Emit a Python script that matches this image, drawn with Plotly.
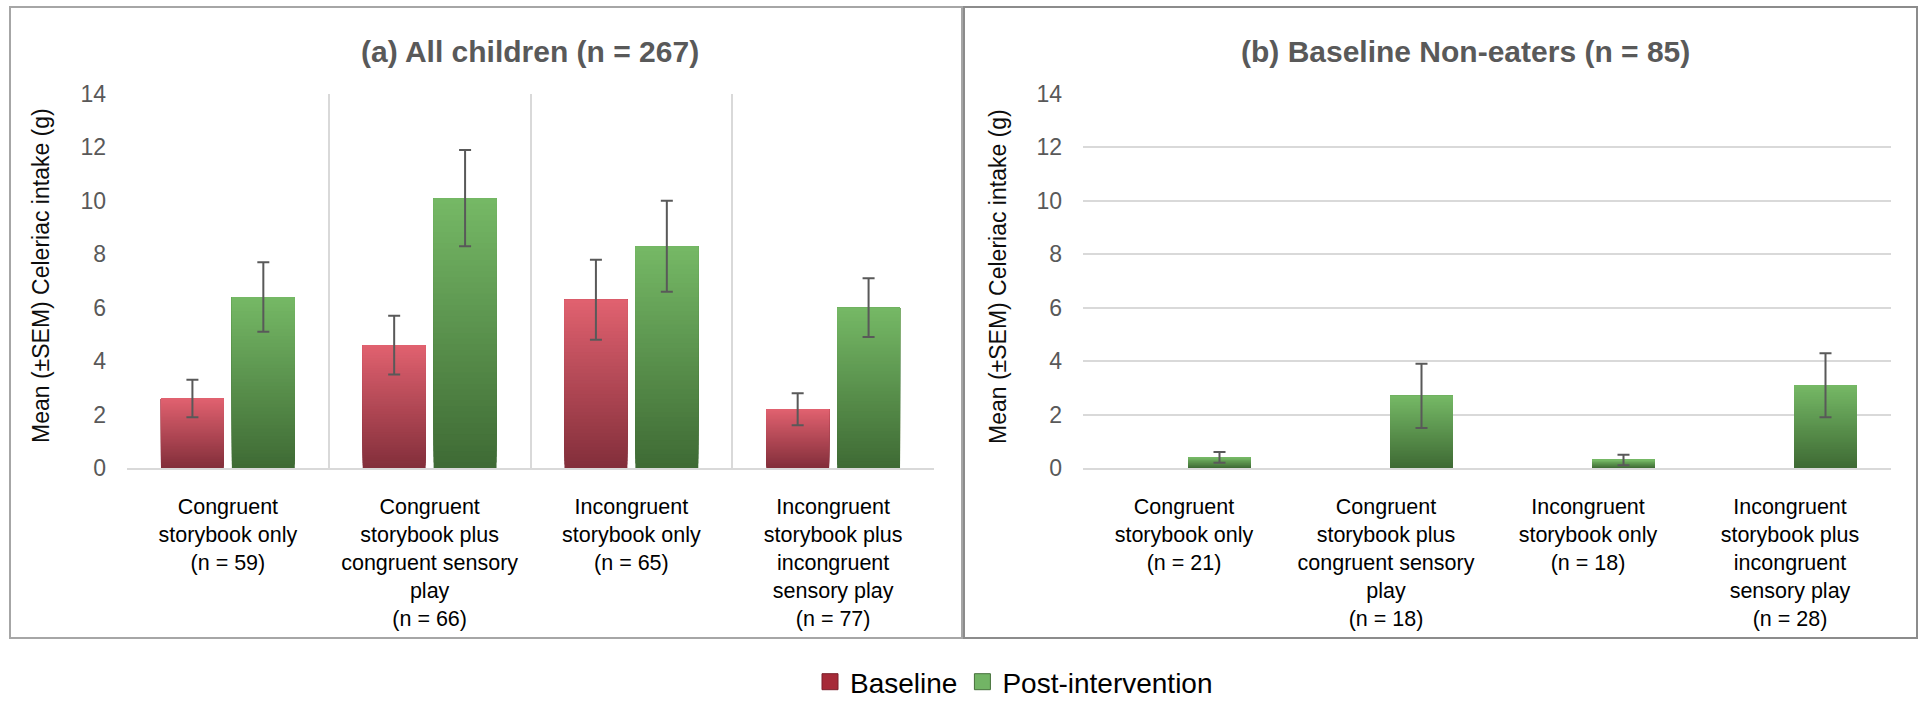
import plotly.graph_objects as go

# ---- data -------------------------------------------------------------
groups = [
    "Congruent<br>storybook only",
    "Congruent<br>storybook plus<br>congruent sensory<br>play",
    "Incongruent<br>storybook only",
    "Incongruent<br>storybook plus<br>incongruent<br>sensory play",
]
n_all = [59, 66, 65, 77]
n_non = [21, 18, 18, 28]

all_baseline = [2.6, 4.6, 6.3, 2.2]
all_baseline_sem = [0.7, 1.1, 1.5, 0.6]
all_post = [6.4, 10.1, 8.3, 6.0]
all_post_sem = [1.3, 1.8, 1.7, 1.1]

non_baseline = [0.0, 0.0, 0.0, 0.0]
non_post = [0.4, 2.7, 0.3, 3.1]
non_post_sem = [0.2, 1.2, 0.2, 1.2]

y_ticks = [0, 2, 4, 6, 8, 10, 12, 14]

# ---- styling ----------------------------------------------------------
W, H = 1919, 703
FONT = "Liberation Sans, Arial, sans-serif"
RED_TOP, RED_BOTTOM = (224, 97, 111), (131, 47, 59)
GREEN_TOP, GREEN_BOTTOM = (117, 184, 101), (63, 107, 53)
LAYERS = 48


def lerp(a, b, t):
    return "rgb(%d,%d,%d)" % tuple(round(a[i] + (b[i] - a[i]) * t) for i in range(3))


def px_x(v):
    return v / W


def px_y(v):
    return (H - v) / H


def labels(ns):
    return [g + "<br>(n = %d)" % n for g, n in zip(groups, ns)]


fig = go.Figure()


def add_series(x, values, sem, top, bottom, group, xa, ya, show_err):
    # vertical gradient: each layer starts a little higher and runs to the bar top,
    # painted over the one below, shading from the bottom colour to the top colour
    for k in range(LAYERS):
        t = k / (LAYERS - 1)
        fig.add_trace(go.Bar(
            x=x, y=[v * (LAYERS - k) / LAYERS for v in values],
            base=[v * k / LAYERS for v in values],
            marker=dict(color=lerp(bottom, top, t), line=dict(width=0)),
            offsetgroup=group, xaxis=xa, yaxis=ya,
            showlegend=False, hoverinfo="skip",
        ))
    # full-height transparent bar carrying the SEM error bars
    fig.add_trace(go.Bar(
        x=x, y=values, offsetgroup=group, xaxis=xa, yaxis=ya,
        marker=dict(color="rgba(0,0,0,0)", line=dict(width=0)),
        error_y=dict(type="data", array=sem, color="#595959",
                     thickness=2, width=6, visible=show_err),
        showlegend=False,
    ))


x_all = labels(n_all)
x_non = labels(n_non)

add_series(x_all, all_baseline, all_baseline_sem, RED_TOP, RED_BOTTOM, "base", "x", "y", True)
add_series(x_all, all_post, all_post_sem, GREEN_TOP, GREEN_BOTTOM, "post", "x", "y", True)
add_series(x_non, non_baseline, [0] * 4, RED_TOP, RED_BOTTOM, "base", "x2", "y2", False)
add_series(x_non, non_post, non_post_sem, GREEN_TOP, GREEN_BOTTOM, "post", "x2", "y2", True)

# legend entries
fig.add_trace(go.Scatter(
    x=[None], y=[None], mode="markers", name="Baseline",
    marker=dict(symbol="square", size=20, color="#A62A38", line=dict(width=1, color="#7a1f2a")),
))
fig.add_trace(go.Scatter(
    x=[None], y=[None], mode="markers", name="Post-intervention",
    marker=dict(symbol="square", size=20, color="#72B465", line=dict(width=1, color="#46703a")),
))

x_dom1 = [px_x(127), px_x(934)]
x_dom2 = [px_x(1083), px_x(1891)]
y_dom = [px_y(468), px_y(94)]

xcommon = dict(
    type="category", range=[-0.5, 3.5], tickangle=0,
    tickfont=dict(family=FONT, size=21.5, color="#000000"),
    showline=True, linecolor="#D9D9D9", linewidth=2,
    ticks="", ticklabelstandoff=18, automargin=False, zeroline=False,
)
ycommon = dict(
    range=[0, 14], tickvals=y_ticks, domain=y_dom,
    tickfont=dict(family=FONT, size=23, color="#595959"),
    ticks="", ticklabelstandoff=20, automargin=False,
    zeroline=False, showline=False,
)

fig.update_layout(
    width=W, height=H, autosize=False,
    margin=dict(l=0, r=0, t=0, b=0, autoexpand=False),
    paper_bgcolor="white", plot_bgcolor="white",
    barmode="group", bargap=0.297, bargroupgap=0.113,
    font=dict(family=FONT),
    xaxis=dict(domain=x_dom1, anchor="y", showgrid=True, tickson="boundaries",
               gridcolor="#D9D9D9", gridwidth=2, **xcommon),
    yaxis=dict(anchor="x", showgrid=False, **ycommon),
    xaxis2=dict(domain=x_dom2, anchor="y2", showgrid=False, **xcommon),
    yaxis2=dict(anchor="x2", showgrid=True, gridcolor="#D9D9D9", gridwidth=2, **ycommon),
    legend=dict(
        orientation="h", x=px_x(1014), xanchor="center", y=px_y(682), yanchor="middle",
        font=dict(family=FONT, size=28, color="#000000"),
        bgcolor="rgba(0,0,0,0)", itemwidth=30,
    ),
    shapes=[
        dict(type="rect", xref="paper", yref="paper",
             x0=px_x(10), x1=px_x(962), y0=px_y(638), y1=px_y(7),
             line=dict(color="#A6A6A6", width=2), layer="below"),
        dict(type="rect", xref="paper", yref="paper",
             x0=px_x(964), x1=px_x(1917), y0=px_y(638), y1=px_y(7),
             line=dict(color="#8C8C8C", width=2), layer="below"),
    ],
    annotations=[
        dict(text="<b>(a) All children (n = 267)</b>", xref="paper", yref="paper",
             x=px_x(530), y=px_y(51), xanchor="center", yanchor="middle", showarrow=False,
             font=dict(family=FONT, size=30, color="#595959")),
        dict(text="<b>(b) Baseline Non-eaters (n = 85)</b>", xref="paper", yref="paper",
             x=px_x(1465), y=px_y(51), xanchor="center", yanchor="middle", showarrow=False,
             font=dict(family=FONT, size=30, color="#595959")),
        dict(text="Mean (±SEM) Celeriac intake (g)", xref="paper", yref="paper",
             x=px_x(41), y=px_y(276), xanchor="center", yanchor="middle", showarrow=False,
             textangle=-90, font=dict(family=FONT, size=23, color="#0d0d0d")),
        dict(text="Mean (±SEM) Celeriac intake (g)", xref="paper", yref="paper",
             x=px_x(998), y=px_y(276), xanchor="center", yanchor="middle", showarrow=False,
             textangle=-90, font=dict(family=FONT, size=23, color="#0d0d0d")),
    ],
)

fig.write_html("out.html")
